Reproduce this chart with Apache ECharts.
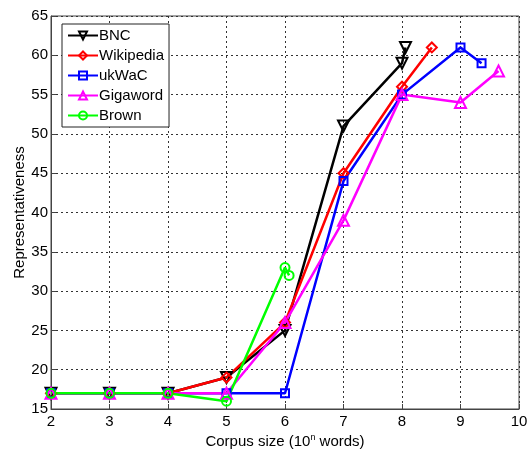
<!DOCTYPE html>
<html>
<head>
<meta charset="utf-8">
<script src="https://cdn.jsdelivr.net/npm/echarts@6/dist/echarts.min.js"></script>
<style>
html,body{margin:0;padding:0;background:#fff;}
#main{width:528px;height:454px;}
</style>
</head>
<body>
<div id="main"></div>
<script>
// values (x = log10 corpus size)
var seriesNames = ['BNC', 'Wikipedia', 'ukWaC', 'Gigaword', 'Brown'];
var bncX = [2, 3, 4, 5, 6, 7, 8, 8.06];
var bncY = [17, 17, 17, 19, 25, 51, 59, 61];
var wikiX = [2, 3, 4, 5, 6, 7, 8, 8.51];
var wikiY = [17, 17, 17, 19, 26, 45, 56, 61];
var ukwacX = [2, 3, 4, 5, 6, 7, 8, 9, 9.36];
var ukwacY = [17, 17, 17, 17, 17, 44, 55, 61, 59];
var gigaX = [2, 3, 4, 5, 6, 7, 8, 9, 9.65];
var gigaY = [17, 17, 17, 17, 26, 39, 55, 54, 58];
var brownX = [2, 3, 4, 5, 6, 6.07];
var brownY = [17, 17, 17, 16, 33, 32];
var xTicks = [2, 3, 4, 5, 6, 7, 8, 9, 10];
var yTicks = [15, 20, 25, 30, 35, 40, 45, 50, 55, 60, 65];

function pairs(xs, ys){
	var out = [];
	for (var i = 0; i < xs.length; i++) {
		out.push([xs[i], ys[i]]);
	}
	return out;
}

function makeSeries(name, xs, ys, color, symbol, size, rot){
	return {
		name: name,
		type: 'line',
		data: pairs(xs, ys),
		symbol: symbol,
		symbolSize: size,
		symbolRotate: rot || 0,
		showAllSymbol: true,
		animation: false,
		lineStyle: { color: color, width: 2.5 },
		itemStyle: { color: 'rgba(255,255,255,0)', borderColor: color, borderWidth: 2 },
		emphasis: { disabled: true }
	};
}

var myChart = echarts.init(document.getElementById('main'));

var series = [
	makeSeries('BNC', bncX, bncY, '#000000', 'triangle', 11, 180),
	makeSeries('Wikipedia', wikiX, wikiY, '#ff0000', 'diamond', 10),
	makeSeries('ukWaC', ukwacX, ukwacY, '#0000ff', 'rect', 8),
	makeSeries('Gigaword', gigaX, gigaY, '#ff00ff', 'triangle', 11),
	makeSeries('Brown', brownX, brownY, '#00ff00', 'circle', 9)
];

var option = {
	backgroundColor: '#fff',
	textStyle: { fontFamily: 'Liberation Sans, Arial, sans-serif' },
	grid: {
		left: 51, right: 9, top: 16, bottom: 45,
		outerBoundsMode: 'none',
		show: true, borderColor: '#444', borderWidth: 1
	},
	legend: {
		data: seriesNames,
		orient: 'vertical',
		left: 62,
		top: 24,
		itemWidth: 30,
		itemHeight: 10,
		itemGap: 5,
		padding: [4, 5, 4, 5],
		backgroundColor: '#fff',
		borderColor: '#222',
		borderWidth: 1,
		textStyle: { fontSize: 15, color: '#000', padding: [0, 0, 0, -4] }
	},
	xAxis: {
		type: 'value',
		min: 2, max: 10, interval: 1,
		name: '{a|Corpus size (10}{s|n}{a| words)}',
		nameLocation: 'middle',
		nameGap: 24,
		nameMoveOverlap: false,
		nameTextStyle: {
			rich: {
				a: { fontSize: 15, color: '#000', fontFamily: 'Liberation Sans' },
				s: { fontSize: 9, color: '#000', fontFamily: 'Liberation Sans', verticalAlign: 'top', padding: [0, 0, 8, 0] }
			}
		},
		axisLine: { show: true, lineStyle: { color: '#444' } },
		axisTick: { show: true, inside: true, length: 5, lineStyle: { color: '#444' } },
		axisLabel: {
			color: '#000', fontSize: 15, margin: 5,
			formatter: function (v) { return xTicks.indexOf(v) >= 0 ? String(v) : ''; }
		},
		splitLine: { show: true, lineStyle: { color: '#333', type: [2, 3], width: 1 } }
	},
	yAxis: {
		type: 'value',
		min: 15, max: 65, interval: 5,
		name: 'Representativeness',
		nameLocation: 'middle',
		nameGap: 24,
		nameMoveOverlap: false,
		nameTextStyle: { fontSize: 15, color: '#000' },
		axisLine: { show: true, lineStyle: { color: '#444' } },
		axisTick: { show: true, inside: true, length: 5, lineStyle: { color: '#444' } },
		axisLabel: {
			color: '#000', fontSize: 15, margin: 3,
			formatter: function (v) { return yTicks.indexOf(v) >= 0 ? String(v) : ''; }
		},
		splitLine: { show: true, lineStyle: { color: '#333', type: [2, 3], width: 1 } }
	},
	series: series
};

myChart.setOption(option, true);
</script>
</body>
</html>
